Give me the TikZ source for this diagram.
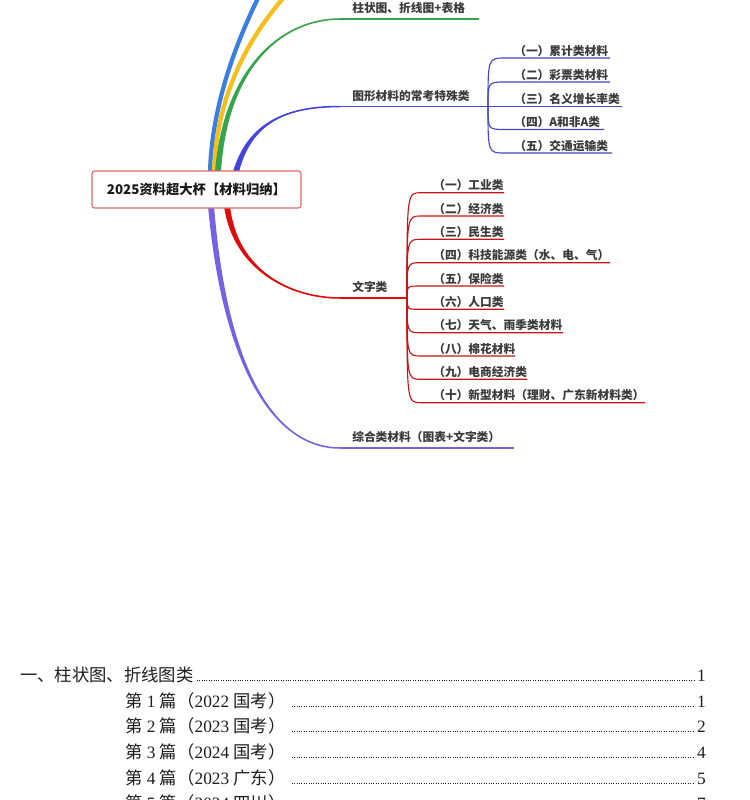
\documentclass[tikz,border=0pt]{standalone}
\usepackage{fontspec}
\usetikzlibrary{calc}
\setmainfont{Noto Sans CJK SC}
\newfontfamily\tnr{Liberation Serif}
\definecolor{cblue}{HTML}{3A7EE0}
\definecolor{cyel}{HTML}{F6BE1C}
\definecolor{cgreen}{HTML}{36A44C}
\definecolor{cind}{HTML}{4343E0}
\definecolor{cred}{HTML}{E00A0A}
\definecolor{cpur}{HTML}{7563E3}
\definecolor{subind}{HTML}{4545C8}
\definecolor{subred}{HTML}{C81414}
\definecolor{boxred}{HTML}{E06666}
\definecolor{txt}{HTML}{3A3A3A}
\definecolor{tocc}{HTML}{1E1E1E}
% tapered branch: color, start, c1, c2, end, sign (1 up, -1 down)
\newcommand{\tapbranch}[6]{%
  \fill[#1] ($(#2)-(#6*3.0,0)$) .. controls ($(#3)-(#6*2.2,0)$) and ($(#4)-(0,1.0)$) .. ($(#5)-(0,0.75)$)
    -- ($(#5)+(0,0.75)$) .. controls ($(#4)+(0,1.0)$) and ($(#3)+(#6*2.2,0)$) .. ($(#2)+(#6*3.0,0)$) -- cycle;}
\begin{document}
\begin{tikzpicture}[x=0.75pt,y=-0.75pt,
  lbl/.style={font=\fontsize{8.8pt}{10pt}\selectfont\bfseries, text=txt, inner sep=0pt, anchor=base west},
  rootbox/.style={draw=boxred, line width=0.8pt, fill=white, rounded corners=2pt, minimum width=156.75pt, minimum height=27.75pt, inner sep=0pt, font=\fontsize{10pt}{12pt}\selectfont\bfseries, text=black!90},
  mainline/.style={line width=0.9pt},
  subline/.style={line width=0.85pt},
  toc/.style={font=\fontsize{13pt}{15pt}\selectfont, text=tocc, inner sep=0pt, anchor=base west},
  pnum/.style={font=\fontsize{13pt}{15pt}\selectfont\tnr, text=tocc, inner sep=0pt, anchor=base east},
  leader/.style={line width=0.6pt, dash pattern=on 0.6pt off 1.2pt, tocc}
]
\useasboundingbox (0,0) rectangle (750,800);
\clip (0,0) rectangle (750,800);
\fill[white] (0,0) rectangle (750,800);

% ---------- coordinates of main branches ----------
\coordinate (bS) at (210,172); \coordinate (bC1) at (212,110); \coordinate (bC2) at (232,50); \coordinate (bE) at (262,-10);
\coordinate (yS) at (214,172); \coordinate (yC1) at (216,105); \coordinate (yC2) at (241,42); \coordinate (yE) at (295,-15);
\coordinate (gS) at (218,172); \coordinate (gC1) at (225,70); \coordinate (gC2) at (280,19); \coordinate (gE) at (340,19);
\coordinate (iS) at (236,172); \coordinate (iC1) at (250,120); \coordinate (iC2) at (290,106.5); \coordinate (iE) at (340,106.5);
\coordinate (rS) at (227,206); \coordinate (rC1) at (235,270); \coordinate (rC2) at (290,298); \coordinate (rE) at (340,298);
\coordinate (pS) at (211,206); \coordinate (pC1) at (225,370); \coordinate (pC2) at (275,448); \coordinate (pE) at (340,448);

% blue and yellow branches (run off the top)
\draw[cblue, line width=3.2pt] (bS) .. controls (bC1) and (bC2) .. (bE);
\draw[cyel, line width=3.2pt] (yS) .. controls (yC1) and (yC2) .. (yE);

% tapered branches
\tapbranch{cgreen}{gS}{gC1}{gC2}{gE}{1}
\tapbranch{cind}{iS}{iC1}{iC2}{iE}{1}
\tapbranch{cred}{rS}{rC1}{rC2}{rE}{-1}
\tapbranch{cpur}{pS}{pC1}{pC2}{pE}{-1}

% main underlines
\coordinate (gL) at (479,19);
\coordinate (hubI) at (488,106.5);
\coordinate (hubR) at (407,298);
\coordinate (pL) at (514,448);
\draw[cgreen, mainline] (gE) -- (gL);
\draw[cind, mainline] (iE) -- (hubI);
\draw[cred, mainline] (rE) -- (hubR);
\draw[cpur, mainline] (pE) -- (pL);

% main labels
\node[lbl] (lg) at (352,12.5) {柱状图、折线图+表格};
\node[lbl] (li) at (352,100) {图形材料的常考特殊类};
\node[lbl] (lr) at (352,291.5) {文字类};
\node[lbl] (lp) at (352,441.5) {综合类材料（图表+文字类）};

% sub branches of 图形材料
\foreach \y/\e/\t [count=\i] in {58/610/（一）累计类材料, 82/610/（二）彩票类材料, 106.5/622/（三）名义增长率类, 129.5/604/（四）A和非A类, 153/612/（五）交通运输类}{
  \coordinate (is\i) at (505,\y);
  \coordinate (ie\i) at (\e,\y);
  \draw[subind, subline] (hubI) .. controls (488,\y) .. (is\i) -- (ie\i);
  \node[lbl] (il\i) at (514,\y-3) {\t};
}

% sub branches of 文字类
\foreach \y/\e/\t [count=\i] in {192.7/504/（一）工业类, 216/504/（二）经济类, 239.3/504/（三）民生类, 262.7/610/（四）科技能源类（水、电、气）, 286/504/（五）保险类, 309.3/504/（六）人口类, 332.7/563/（七）天气、雨季类材料, 356/515/（八）棉花材料, 379.3/527/（九）电商经济类, 402.7/645/（十）新型材料（理财、广东新材料类）}{
  \coordinate (rs\i) at (421,\y);
  \coordinate (re\i) at (\e,\y);
  \draw[subred, subline] (hubR) .. controls (407,\y) .. (rs\i) -- (re\i);
  \node[lbl] (rl\i) at (433,\y-3) {\t};
}

% root
\node[rootbox] (root) at (196.5,189.5) {2025资料超大杯【材料归纳】};

% ---------- table of contents ----------
\node[toc] (t0) at (20,681.3) {一、柱状图、折线图类};
\node[pnum] (p0) at (706,681.3) {1};
\draw[leader] ($(t0.base east)+(3,-1)$) -- ($(p0.base west)+(-3,-1)$);
\foreach \n/\yr/\pl/\pg/\y in {1/2022/国考/1/707, 2/2023/国考/2/732.7, 3/2024/国考/4/758.3, 4/2023/广东/5/784, 5/2024/四川/7/809.7}{
  \node[toc] (t\n) at (125,\y) {第{\tnr\ \n\ }篇（{\tnr\yr\ }\pl）};
  \node[pnum] (p\n) at (706,\y) {\pg};
  \draw[leader] ($(t\n.base east)+(6,-1)$) -- ($(p\n.base west)+(-3,-1)$);
}
\end{tikzpicture}
\end{document}
